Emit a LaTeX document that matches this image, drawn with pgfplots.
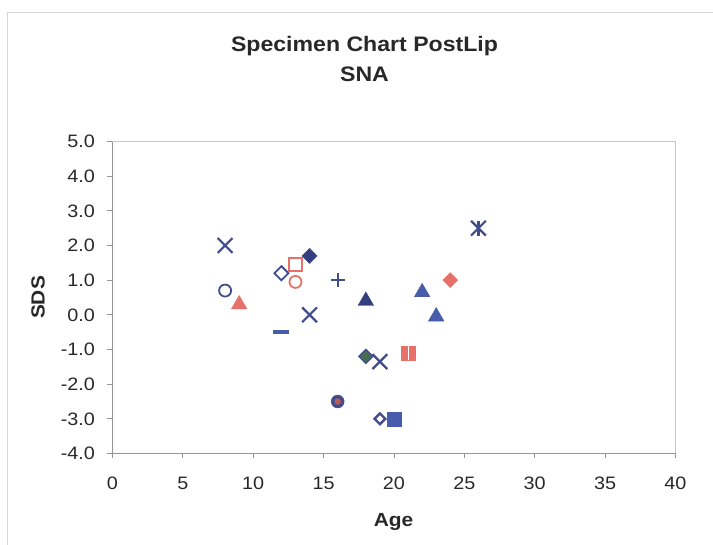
\documentclass[border=0pt]{standalone}
\usepackage{pgfplots}
\pgfplotsset{compat=1.18}
\usepackage{fontspec}
\setmainfont{Liberation Sans}[FakeStretch=1.1]
\definecolor{navy}{RGB}{64,76,140}
\definecolor{dnavy}{RGB}{50,62,125}
\definecolor{mblue}{RGB}{72,92,172}
\definecolor{salmon}{RGB}{232,112,106}
\definecolor{dgreen}{RGB}{72,108,84}
\definecolor{txt}{RGB}{40,40,40}
\definecolor{axgray}{RGB}{150,150,150}
\definecolor{frgray}{RGB}{215,215,215}
\begin{document}
\begin{tikzpicture}[x=1pt,y=1pt]
\useasboundingbox (-112.5,-91.5) rectangle (600.5,453.5);
\draw[frgray, line width=1pt] (-104.5,-120) rectangle (640,440.5);
\begin{axis}[
  at={(0,0)}, anchor=south west,
  scale only axis, width=563pt, height=312pt,
  xmin=0, xmax=40, ymin=-4, ymax=5,
  xtick={0,5,...,40}, ytick={-4,-3,...,5},
  axis x line*=bottom, axis y line*=left,
  axis line style={axgray, line width=0.8pt},
  x axis line style={-}, y axis line style={-},
  tick align=outside, major tick length=5pt,
  tick style={axgray, line width=0.8pt},
  /pgf/number format/assume math mode=true,
  ticklabel style={font=\fontsize{18}{20}\selectfont, text=txt},
  xticklabel style={yshift=-15pt},
  yticklabel style={xshift=-9pt, /pgf/number format/.cd, fixed, fixed zerofill, precision=1},
  clip=false,
]
\draw[frgray!80!gray, line width=0.8pt] (rel axis cs:0,1) -- (rel axis cs:1,1) -- (rel axis cs:1,0);
% x markers
\addplot[only marks, mark=x, mark size=10.5pt, navy, line width=2.2pt] coordinates {(8,2.0) (14,0.0) (19,-1.35) (26,2.5)};
\addplot[only marks, mark=|, mark size=7.4pt, navy, line width=2.2pt] coordinates {(26,2.5)};
% open circles
\addplot[only marks, mark=o, mark size=6pt, navy, line width=1.8pt] coordinates {(8,0.7)};
\addplot[only marks, mark=o, mark size=6pt, salmon, line width=1.8pt] coordinates {(13,0.95)};
% open square
\addplot[only marks, mark=square, mark size=6.5pt, salmon, line width=1.6pt] coordinates {(13,1.45)};
% open diamonds
\addplot[only marks, mark=square, mark options={rotate=45}, mark size=5pt, navy, line width=1.8pt] coordinates {(12,1.2)};
\addplot[only marks, mark=square, mark options={rotate=45}, mark size=3.8pt, navy, line width=2.4pt] coordinates {(19,-3.0)};
% filled diamonds
\addplot[only marks, mark=square*, mark options={rotate=45}, mark size=5.2pt, draw=navy, fill=dnavy, line width=0.8pt] coordinates {(14,1.7)};
\addplot[only marks, mark=square*, mark options={rotate=45}, mark size=5pt, draw=navy, fill=dgreen, line width=1.2pt] coordinates {(18,-1.2)};
\addplot[only marks, mark=square*, mark options={rotate=45}, mark size=5.3pt, draw=salmon, fill=salmon] coordinates {(24,1.0)};
% dash
\addplot[only marks, mark=-, mark size=8pt, mblue, line width=3.5pt] coordinates {(12,-0.5)};
% plus
\addplot[only marks, mark=+, mark size=7pt, navy, line width=1.8pt] coordinates {(16,1.0)};
% filled circle with red centre
\addplot[only marks, mark=*, mark size=6.5pt, draw=navy, fill=navy] coordinates {(16,-2.5)};
\addplot[only marks, mark=*, mark size=3pt, draw=salmon!80!black, fill=salmon!80!black] coordinates {(16,-2.5)};
% triangles
\addplot[only marks, mark=triangle*, mark size=9pt, draw=salmon, fill=salmon] coordinates {(9,0.3)};
\addplot[only marks, mark=triangle*, mark size=9pt, draw=dnavy, fill=dnavy] coordinates {(18,0.4)};
\addplot[only marks, mark=triangle*, mark size=9pt, draw=mblue, fill=mblue] coordinates {(22,0.65) (23,-0.05)};
% filled squares
\addplot[only marks, mark=square*, mark size=7pt, draw=mblue, fill=mblue] coordinates {(20,-3.0)};
\addplot[only marks, mark=square*, mark size=7pt, draw=salmon, fill=salmon] coordinates {(21,-1.1)};
\addplot[only marks, mark=|, mark size=7pt, white, line width=1pt] coordinates {(21,-1.1)};
\end{axis}
\node[anchor=base, text=txt, font=\fontsize{21}{25}\selectfont\bfseries] at (252,401.8) {Specimen Chart PostLip};
\node[anchor=base, text=txt, font=\fontsize{21}{25}\selectfont\bfseries] at (252,371.8) {SNA};
\node[anchor=base, text=txt, font=\fontsize{19}{22}\selectfont\bfseries] at (281,-73.5) {Age};
\node[rotate=90, text=txt, font=\fontsize{19}{22}\selectfont\bfseries] at (-74.5,156) {SDS};
\end{tikzpicture}
\end{document}
